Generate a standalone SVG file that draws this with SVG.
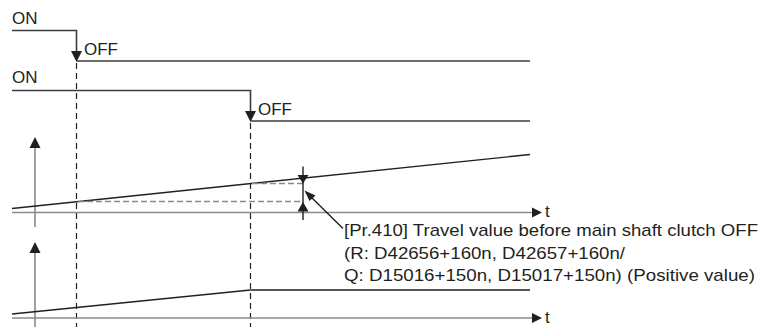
<svg xmlns="http://www.w3.org/2000/svg" width="762" height="327" viewBox="0 0 762 327">
<style>
text{font-family:"Liberation Sans",Arial,sans-serif;font-size:17px;fill:#231f20}
.sig{fill:none;stroke:#3c3c3c;stroke-width:1.6}
.ax{fill:none;stroke:#8a8a8a;stroke-width:1.6}
.cur{fill:none;stroke:#231f20;stroke-width:1.4}
.hold{fill:none;stroke:#555;stroke-width:2}
.vd{fill:none;stroke:#231f20;stroke-width:1.2;stroke-dasharray:6 4}
.hd{fill:none;stroke:#8a8a8a;stroke-width:1.4;stroke-dasharray:6 3}
.ah{fill:#231f20}
.gah{fill:#231f20}
</style>
<rect width="762" height="327" fill="#fff"/>
<g id="signal1">
<text x="12" y="24">ON</text>
<polyline class="sig" points="12,30.5 76.5,30.5 76.5,52"/>
<polygon class="ah" points="71,51 82,51 76.5,62"/>
<line class="sig" x1="76.5" y1="61" x2="530" y2="61"/>
<text x="84" y="55">OFF</text>
</g>
<g id="signal2">
<text x="12" y="83">ON</text>
<polyline class="sig" points="12,90.5 250.5,90.5 250.5,112"/>
<polygon class="ah" points="245,111 256,111 250.5,122"/>
<line class="sig" x1="250.5" y1="121" x2="530" y2="121"/>
<text x="258" y="115">OFF</text>
</g>
<g id="guides">
<line class="vd" x1="76.5" y1="63" x2="76.5" y2="327"/>
<line class="vd" x1="250.5" y1="123" x2="250.5" y2="327"/>
</g>
<g id="graph1">
<line class="ax" x1="35" y1="146" x2="35" y2="227"/>
<polygon class="ah" points="29.5,148 40.5,148 35,137"/>
<line class="ax" x1="12" y1="212.5" x2="534" y2="212.5"/>
<polygon class="ah" points="532,207.5 532,217.5 542,212.5"/>
<text x="545" y="217">t</text>
<line class="cur" x1="12" y1="208.5" x2="530" y2="154.5"/>
<line class="hd" x1="78" y1="201.5" x2="303" y2="201.5"/>
<line class="hd" x1="252" y1="183.5" x2="303" y2="183.5"/>
</g>
<g id="travel-marker">
<line class="cur" x1="303" y1="166.5" x2="303" y2="220"/>
<polygon class="ah" points="297.5,175 308.5,175 303,183.5"/>
<polygon class="ah" points="297.5,211.5 308.5,211.5 303,202"/>
</g>
<g id="graph2">
<line class="ax" x1="35" y1="251" x2="35" y2="327"/>
<polygon class="ah" points="29.5,253 40.5,253 35,242"/>
<line class="ax" x1="12" y1="318" x2="534" y2="318"/>
<polygon class="ah" points="532,313 532,323 542,318"/>
<text x="545" y="323">t</text>
<polyline class="cur" points="12,314 250.5,290"/>
<line class="hold" x1="250.5" y1="290" x2="530" y2="290"/>
</g>
<g id="connectors">
<line class="cur" x1="343" y1="228.5" x2="309" y2="195"/>
<polygon class="ah" points="304.5,190.5 315.5,195.5 309.5,201"/>
</g>
<g id="label">
<text x="344" y="235.5" textLength="414" lengthAdjust="spacingAndGlyphs">[Pr.410] Travel value before main shaft clutch OFF</text>
<text x="344" y="258.5" textLength="281" lengthAdjust="spacingAndGlyphs">(R: D42656+160n, D42657+160n/</text>
<text x="344" y="281" textLength="411" lengthAdjust="spacingAndGlyphs">Q: D15016+150n, D15017+150n) (Positive value)</text>
</g>
</svg>
